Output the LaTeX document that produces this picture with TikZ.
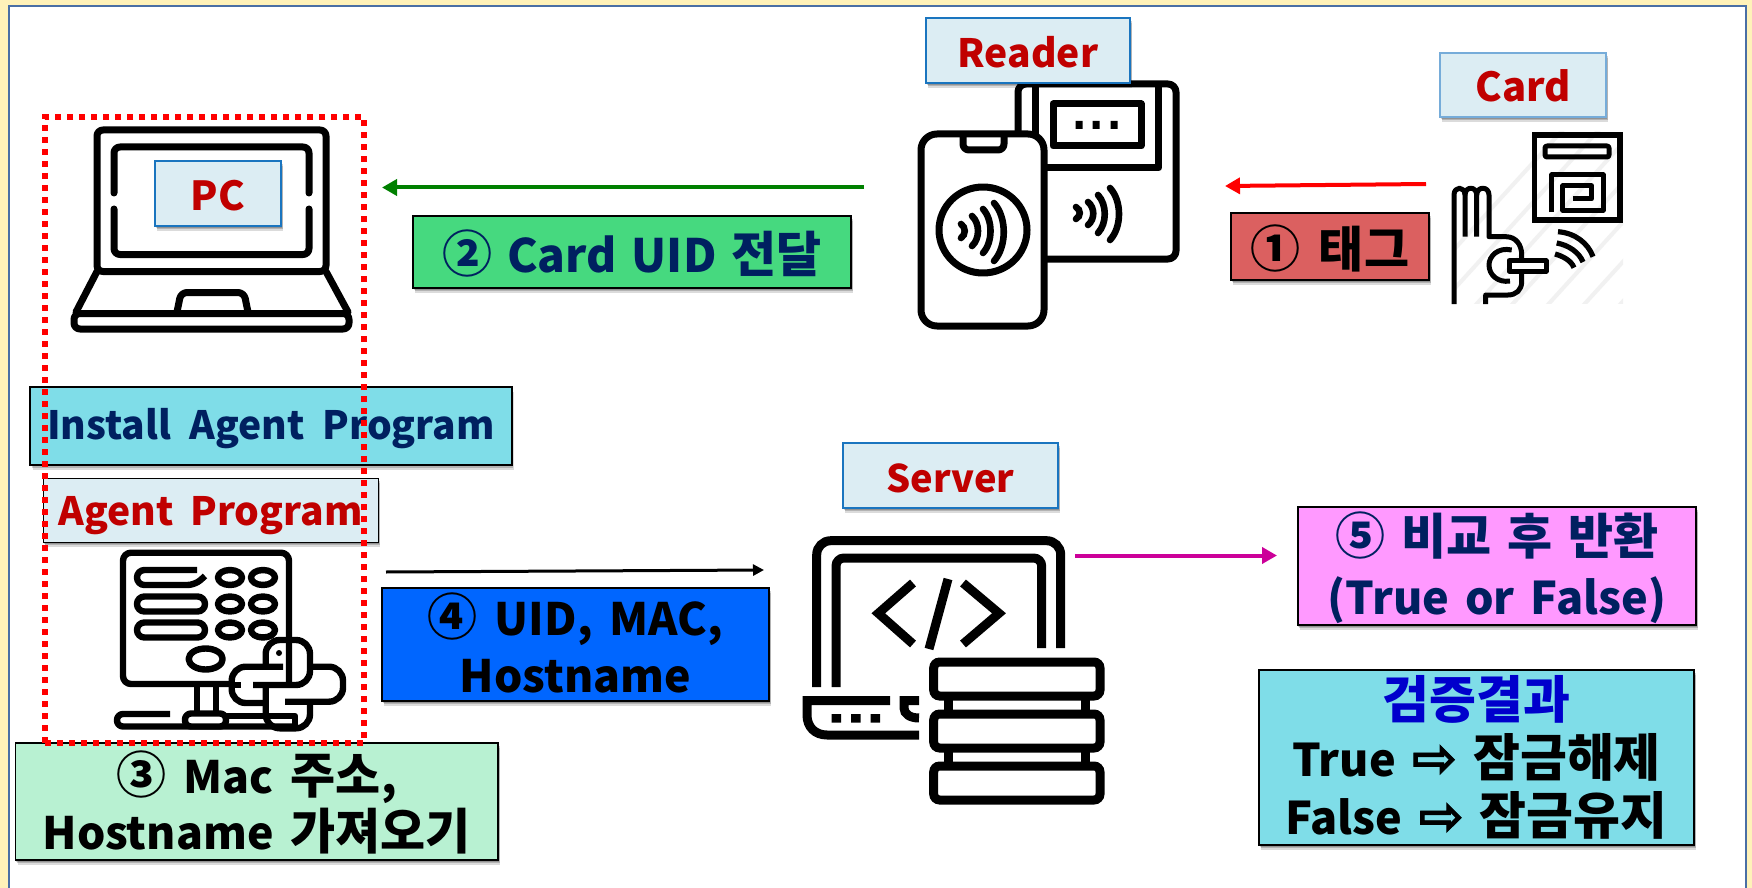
\documentclass[tikz,border=0pt]{standalone}
\usepackage{fontspec}
\setmainfont{Noto Sans CJK KR}
\newfontfamily\arrfont{DejaVu Sans}[FakeBold=1.5]
\usetikzlibrary{arrows.meta,shadows}
\definecolor{cream}{HTML}{FFF2B9}
\definecolor{frameblue}{HTML}{4A6FA5}
\definecolor{lightbox}{HTML}{DCEDF3}
\definecolor{boxblue}{HTML}{1A75BF}
\definecolor{redtxt}{HTML}{C00000}
\definecolor{navy}{HTML}{002060}
\definecolor{cyanbox}{HTML}{7FDDE8}
\definecolor{greenbox}{HTML}{46D97F}
\definecolor{redbox}{HTML}{DB6060}
\definecolor{bluebox}{HTML}{0066FF}
\definecolor{mintbox}{HTML}{B8F1D2}
\definecolor{pinkbox}{HTML}{FF99FF}
\definecolor{magentaline}{HTML}{CC0099}
\definecolor{arrowgreen}{HTML}{008000}
\definecolor{hatch}{HTML}{F1F1F1}
\newcommand{\wv}[5][3.3pt]{\draw[line width=#1,line cap=round] (#2,#3) .. controls ({#2+#5},{#3+(#4-#3)*0.25}) and ({#2+#5},{#3+(#4-#3)*0.75}) .. (#2,#4);}
% #1 lowering, #2 size, #3 leading, #4 word space, #5 lines
\newcommand{\btext}[5]{\raisebox{-#1pt}[\height][\depth]{\makebox[0pt]{\parbox{260pt}{\lineskiplimit=-30pt\fontsize{#2}{#3}\selectfont\bfseries\spaceskip=#4pt\relax\centering #5\par}}}}
\newcommand{\hg}[1]{{\fontsize{24.5}{10}\selectfont #1}}
\newcommand{\hgb}[1]{{\fontsize{25.5}{10}\selectfont #1}}
\newcommand{\cn}[1]{{\fontsize{25}{10}\selectfont #1}}
\newcommand{\fat}{{\arrfont\fontsize{27}{10}\selectfont ⇨}}
\tikzset{
  softshadow/.style={
    drop shadow={shadow xshift=.4pt,shadow yshift=-.8pt,opacity=.18,fill=black},
    drop shadow={shadow xshift=.8pt,shadow yshift=-1.6pt,opacity=.18,fill=black},
    drop shadow={shadow xshift=1.2pt,shadow yshift=-2.6pt,opacity=.14,fill=black}},
  basebox/.style={inner sep=0pt,align=center,softshadow},
  labelbox/.style={basebox,fill=lightbox,draw=boxblue,line width=.9pt,text=redtxt},
  stepbox/.style={basebox,draw=black,line width=1pt},
  icon/.style={line width=3.5pt,line join=round},
  thinicon/.style={line width=2.5pt,line join=round},
  srv/.style={line width=4.5pt,line join=miter},
  flow/.style={line width=2pt},
}
\begin{document}
\begin{tikzpicture}[x=.5pt,y=-.5pt]
\useasboundingbox (0,0) rectangle (1752,888);
\fill[cream] (0,0) rectangle (1752,888);
\filldraw[fill=white,draw=frameblue,line width=1.4pt] (9,888) -- (9,6) -- (1746,6) -- (1746,888);

% PC icon
\begin{scope}[icon,line cap=round]
\draw[rounded corners=3pt] (97,271.5) -- (97,130) -- (326,130) -- (326,271.5) -- cycle;
\draw[rounded corners=3pt] (114,193) -- (114,147) -- (309,147) -- (309,193);
\draw[rounded corners=3pt] (114,209) -- (114,254.5) -- (309,254.5) -- (309,209);
\draw (97,271.5) -- (76,312);
\draw (326,271.5) -- (348,312);
\draw[rounded corners=3pt] (74,313.5) rectangle (349,329);
\draw[rounded corners=3pt] (177,312) -- (181,292.5) -- (244,292.5) -- (248,312);
\end{scope}

% Reader icon
\begin{scope}[icon]
\draw[rounded corners=4pt] (1018,135) -- (1018,84) -- (1176,84) -- (1176,259) -- (1046,259);
\draw (1035,84) -- (1035,135);
\draw (1046,168) -- (1158.6,168) -- (1158.6,84);
\draw (1053,104) rectangle (1141,146);
\fill (1075.5,121) rectangle (1082.5,129) (1092.5,121) rectangle (1099.5,129) (1110.5,121) rectangle (1117.5,129);
\filldraw[fill=white,rounded corners=8pt] (921,134) rectangle (1044,326);
\draw[rounded corners=3pt] (963,135) -- (963,150) -- (1004,150) -- (1004,135);
\draw (983,230) ellipse [x radius=44,y radius=43];
\end{scope}
\wv{1076}{207}{219}{5}
\wv{1088}{202}{225}{7}
\wv{1098}{195}{233}{9}
\wv{1110}{188}{240}{12}
\wv{961}{224}{238}{5}
\wv{972}{216}{246}{8}
\wv{983}{209}{253}{10}
\wv{994}{203}{261}{13}

% Card icon
\begin{scope}
\clip (1452,132) rectangle (1623,303);
\foreach \k in {0,...,7}{\draw[hatch,line width=2pt] ({1390+\k*36},320) -- ({1390+\k*36+180},122);}
\end{scope}
\draw[line width=2.8pt,line join=miter] (1534.5,135) rectangle (1620,220);
\draw[thinicon,rounded corners=1pt] (1545,146) rectangle (1609,157);
\draw[thinicon] (1551.7,212) -- (1551.7,175) -- (1603,175) -- (1603,210) -- (1562.7,210) -- (1562.7,186) -- (1591.7,186) -- (1591.7,199) -- (1572.7,199);
\begin{scope}[thinicon]
\draw (1454,304) -- (1454,195) .. controls (1454,186) and (1465,186) .. (1465,195) -- (1465,236.7);
\draw (1465,195) .. controls (1465,186) and (1476.7,186) .. (1476.7,195) -- (1476.7,236.7);
\draw (1476.7,195) .. controls (1476.7,186) and (1489,186) .. (1489,195) -- (1489,236.7) -- (1506,236.7) .. controls (1516,236.7) and (1521.7,245) .. (1521.7,255) -- (1521.7,281.7) .. controls (1521.7,290) and (1516,295) .. (1508,295) -- (1485.7,295) -- (1485.7,304);
\draw (1511.7,250) .. controls (1498,247) and (1489,256) .. (1489,265) .. controls (1489,275) and (1498,283) .. (1510,281);
\filldraw[fill=white] (1509,260.7) rectangle (1546,271);
\end{scope}
\begin{scope}[line width=2.6pt]
\draw (1558,231.7) .. controls (1575,233) and (1588,243) .. (1593,256.7);
\draw (1556.7,243) .. controls (1568,245) and (1579,252) .. (1583,262);
\draw (1555,254) .. controls (1562,256) and (1571,260) .. (1574,267.7);
\end{scope}

% Agent icon
\begin{scope}[thinicon,line width=3.2pt]
\draw[rounded corners=4pt] (289,684) -- (289,552.7) -- (123,552.7) -- (123,684) -- (232,684);
\draw[rounded corners=3.7pt] (197,570) -- (137,570) -- (137,585) -- (195,585) -- (205,576);
\foreach \yy in {604,630}{\draw[rounded corners=3.7pt] (137,\yy-7.5) rectangle (205,\yy+7.5);}
\foreach \yy in {577.5,604,630}{
  \draw (230,\yy) ellipse [x radius=12,y radius=7.5];
  \draw (263,\yy) ellipse [x radius=12,y radius=7.5];
}
\draw (205.7,659) ellipse [x radius=17,y radius=10.5];
\draw (197,684) -- (197,712);
\draw (216,684) -- (216,712);
\draw[rounded corners=3pt] (170,714) -- (117,714) -- (117,726.5) -- (296,726.5);
\draw (226,716) -- (295,716) -- (295,726.5);
\filldraw[fill=white,rounded corners=3pt] (185,713.5) rectangle (226,726.5);
\draw[rounded corners=7pt] (253,685) -- (310,685) -- (310,640) -- (265.7,640) -- (265.7,666.7);
\draw[rounded corners=7pt] (283,666.7) -- (231.7,666.7) -- (231.7,703) -- (263,703);
\draw (232,685) -- (241,685);
\draw[rounded corners=7pt] (311.7,666.7) -- (343,666.7) -- (343,701.7) -- (285,701.7);
\draw[rounded corners=7pt] (310,701.7) -- (310,728.3) -- (265.7,728.3) -- (265.7,685);
\fill (279,653) circle [radius=3];
\end{scope}

% Server icon
\begin{scope}[srv]
\draw[rounded corners=7pt] (816.7,687) -- (816.7,540.7) -- (1060.7,540.7) -- (1060.7,648);
\draw[rounded corners=4pt] (836,687) -- (836,558) -- (1041.7,558) -- (1041.7,648);
\draw (890,700.7) -- (807,700.7) -- (807,715) .. controls (807,727) and (815,735) .. (827,735) -- (919,735);
\draw (919,700.7) -- (904,700.7) -- (904,708) .. controls (904,714) and (910,718) .. (919,718);
\fill (831.5,714) rectangle (841,722.5) (851,714) rectangle (860.5,722.5) (870.5,714) rectangle (880,722.5);
\draw[miter limit=10] (913,583) -- (878.3,613.3) -- (913,644);
\draw (948,579) -- (929,649);
\draw[miter limit=10] (963,583) -- (999,613.3) -- (963,644);
\draw (948,696) -- (948,714) (1085,696) -- (1085,714) (948,748) -- (948,766) (1085,748) -- (1085,766);
\filldraw[fill=white,rounded corners=3pt] (933.7,662) rectangle (1100,696);
\filldraw[fill=white,rounded corners=3pt] (933.7,714) rectangle (1100,748);
\filldraw[fill=white,rounded corners=3pt] (933.7,766) rectangle (1100,800);
\end{scope}

% Boxes
\node[labelbox,minimum width=63pt,minimum height=32.5pt] (pc) at (218,193.5) {\btext{1.2}{20}{24}{8}{PC}};
\node[labelbox,minimum width=102pt,minimum height=32.5pt] (reader) at (1028,50.5) {\btext{.6}{19.5}{24}{8}{Reader}};
\node[labelbox,draw=boxblue!60,minimum width=83pt,minimum height=32pt] (card) at (1523,85) {\btext{.6}{20}{24}{8}{Card}};
\node[labelbox,minimum width=107.5pt,minimum height=32.5pt] (server) at (950.5,475.5) {\btext{1.2}{19}{24}{8}{Server}};
\node[stepbox,fill=cyanbox,text=navy,minimum width=240.75pt,minimum height=38.75pt] (install) at (271,426) {\btext{1.2}{19.5}{24}{9}{Install Agent Program}};
\node[labelbox,draw=black,line width=.5pt,minimum width=167.5pt,minimum height=32pt] (agent) at (210.5,510) {\btext{2.8}{19.5}{24}{8.5}{Agent Program}};
\node[stepbox,fill=greenbox,text=navy,minimum width=219pt,minimum height=36pt] (uid) at (632,252) {\btext{.8}{23}{26}{7.5}{\cn{②} Card UID \hg{전달}}};
\node[stepbox,fill=redbox,text=black,minimum width=99pt,minimum height=33.5pt] (tag) at (1330,246.5) {\btext{1}{22}{26}{9}{\cn{①} \hg{태그}}};
\node[stepbox,fill=bluebox,text=black,minimum width=193.5pt,minimum height=56.5pt] (send) at (575.5,644.5) {\btext{-1}{22.3}{28.5}{8.5}{\cn{④} UID, MAC,\\Hostname}};
\node[stepbox,fill=mintbox,text=black,line width=.8pt,minimum width=241.25pt,minimum height=58.5pt] (mac) at (256.75,801.5) {\btext{.5}{22.3}{28}{8.5}{\cn{③} Mac \hg{주소},\\Hostname \hg{가져오기}}};
\node[stepbox,fill=pinkbox,text=navy,minimum width=199.25pt,minimum height=59pt] (cmp) at (1496.75,566) {\btext{.8}{22.5}{30}{8}{\cn{⑤} \hg{비교 후 반환}\\(True or False)}};
\node[stepbox,fill=cyanbox,text=black,minimum width=217.5pt,minimum height=87.5pt] (result) at (1476.5,757.5) {\btext{0}{22.5}{29}{8}{\textcolor{blue!80!black}{\hgb{검증결과}}\\True \fat{} \hgb{잠금해제}\\False \fat{} \hgb{잠금유지}}};

% Arrows
\coordinate (a1s) at (1426,184);
\coordinate (a1e) at (1225,186);
\coordinate (a2s) at (864,187.5);
\coordinate (a2e) at (382,187.5);
\coordinate (a3s) at (386,572);
\coordinate (a3e) at (764,570);
\coordinate (a4s) at (1075,555.5);
\coordinate (a4e) at (1277,555.5);
\draw[flow,red,-{Triangle[length=7.5pt,width=8pt]}] (a1s) -- (a1e);
\draw[flow,arrowgreen,-{Triangle[length=7.5pt,width=8pt]}] (a2s) -- (a2e);
\draw[line width=1.5pt,black,-{Triangle[length=5.5pt,width=5.5pt]}] (a3s) -- (a3e);
\draw[flow,magentaline,-{Triangle[length=7.5pt,width=8pt]}] (a4s) -- (a4e);

% Dotted group frame
\node[draw=red,line width=3pt,dash pattern=on 3pt off 3pt,inner sep=0pt,minimum width=159.5pt,minimum height=313pt] (group) at (204.5,430) {};
\end{tikzpicture}
\end{document}
